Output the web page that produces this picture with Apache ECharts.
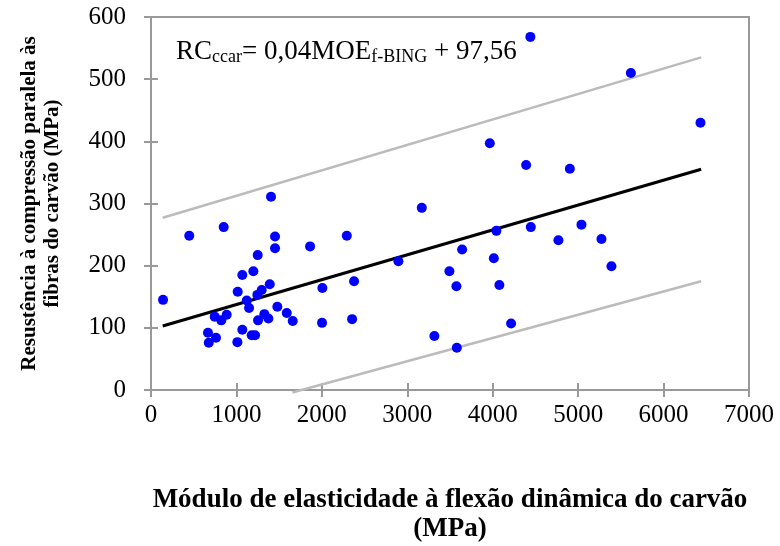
<!DOCTYPE html>
<html>
<head>
<meta charset="utf-8">
<script src="https://cdn.jsdelivr.net/npm/echarts@6/dist/echarts.min.js"></script>
<style>html,body{margin:0;padding:0;background:#fff}#c{width:780px;height:546px}</style>
</head>
<body>
<div id="c"></div>
<script>
// Observed data: MOE (x, MPa) and RC (y, MPa)
const moe = [1405,448,851,1452,1452,1862,2292,1249,1198,1069,1390,1296,1245,1015,141,1121,1148,1479,2006,2377,1589,1659,2002,2354,746,823,886,1253,1327,1374,667,761,676,1069,1011,1179,1218,
  3170,2896,4043,4446,4769,3642,4013,3493,3575,4078,3317,4215,3580,
  6432,4903,5039,5273,5390,4441,3966,4391,5617];
const rc = [311,248,262,247,228,231,248,217,191,185,170,161,153,158,145,144,132,134,164,175,124,111,108,114,118,112,121,112,122,115,92,84,76,97,77,88,88,
  293,207,256,262,241,226,212,191,167,169,87,107,68,
  430,356,266,243,199,568,397,362,510];
// Lines (endpoints)
const fitX = [137, 6440];
const fitY = [103, 355];
const upperX = [137, 6440];
const upperY = [277, 535];
const lowerX = [1655, 6440];
const lowerY = [-4, 175];
// Axis ticks
const xTicks = [0,1000,2000,3000,4000,5000,6000,7000];
const yTicks = [0,100,200,300,400,500,600];

const pts = moe.map((x,i)=>[x, rc[i]]);
const toLine = (xs, ys) => xs.map((x,i)=>[x, ys[i]]);

const font = '"Liberation Serif", "Times New Roman", serif';
const axisCol = '#999999';

const chart = echarts.init(document.getElementById('c'));
const xCommon = {
  type:'value', min:xTicks[0], max:xTicks[xTicks.length-1], interval:1000,
  splitLine:{show:false},
  axisLine:{show:true, lineStyle:{color:axisCol, width:2}}
};
const yCommon = {
  type:'value', min:yTicks[0], max:yTicks[yTicks.length-1], interval:100,
  splitLine:{show:false},
  axisLine:{show:true, lineStyle:{color:axisCol, width:2}}
};
chart.setOption({
  animation:false,
  grid:{left:151, right:31, top:17, bottom:156, show:true, borderColor:axisCol, borderWidth:2,
        containLabel:false, outerBoundsMode:'none'},
  xAxis:[
    Object.assign({}, xCommon, {
      name:'Módulo de elasticidade à flexão dinâmica do carvão\n(MPa)',
      nameLocation:'middle', nameGap:96,
      nameTextStyle:{fontFamily:font, fontWeight:'bold', fontSize:27, color:'#000', lineHeight:29},
      axisTick:{show:true, length:7, lineStyle:{color:axisCol, width:2}},
      axisLabel:{fontFamily:font, fontSize:25, color:'#000', margin:13, formatter:v=>String(v)}
    }),
    Object.assign({}, xCommon, {
      position:'bottom',
      axisTick:{show:true, inside:true, length:7, lineStyle:{color:axisCol, width:2}},
      axisLabel:{show:false}
    })
  ],
  yAxis:[
    Object.assign({}, yCommon, {
      name:'Resustência à compressão paralela às\nfibras do carvão (MPa)',
      nameLocation:'middle', nameGap:87, nameRotate:90,
      nameTextStyle:{fontFamily:font, fontWeight:'bold', fontSize:21, color:'#000', lineHeight:23},
      axisTick:{show:true, length:7, lineStyle:{color:axisCol, width:2}},
      axisLabel:{fontFamily:font, fontSize:25, color:'#000', margin:25, formatter:v=>String(v)}
    }),
    Object.assign({}, yCommon, {
      position:'left',
      axisTick:{show:true, inside:true, length:7, lineStyle:{color:axisCol, width:2}},
      axisLabel:{show:false}
    })
  ],
  graphic:[{
    type:'text', left:176, top:38, z:10,
    style:{
      text:'{a|RC}{s|ccar}{a|= 0,04MOE}{s|f-BING}{a| + 97,56}',
      rich:{
        a:{fontFamily:font, fontSize:27, color:'#000', lineHeight:30},
        s:{fontFamily:font, fontSize:18, color:'#000', lineHeight:17, verticalAlign:'bottom'}
      }
    }
  }],
  series:[
    {type:'line', data:toLine(upperX, upperY), symbol:'none', clip:false,
     lineStyle:{color:'#bbbbbb', width:2.5}, z:2},
    {type:'line', data:toLine(lowerX, lowerY), symbol:'none', clip:false,
     lineStyle:{color:'#bbbbbb', width:2.5}, z:2},
    {type:'line', data:toLine(fitX, fitY), symbol:'none',
     lineStyle:{color:'#000000', width:3}, z:3},
    {type:'scatter', data:pts, symbol:'circle', symbolSize:10,
     itemStyle:{color:'#0000ff', opacity:1}, z:4}
  ]
});
</script>
</body>
</html>
